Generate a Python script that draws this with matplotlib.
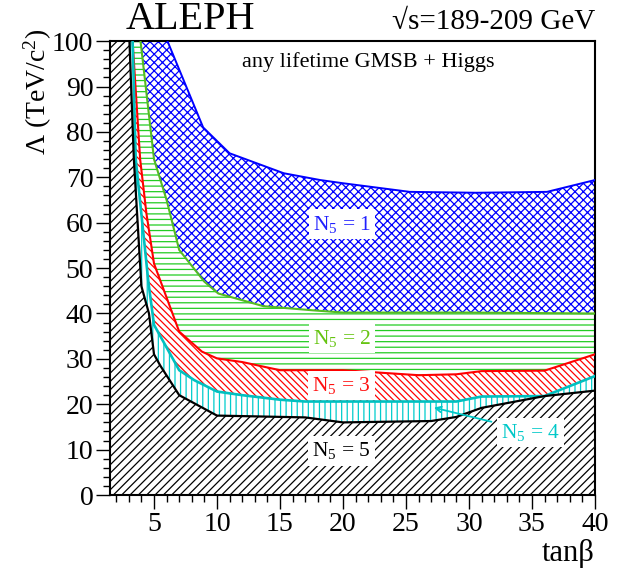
import matplotlib
matplotlib.use("Agg")
import matplotlib.pyplot as plt
import numpy as np

plt.rcParams['font.family'] = ['Liberation Serif', 'DejaVu Serif']
plt.rcParams['mathtext.fontset'] = 'custom'
plt.rcParams['mathtext.rm'] = 'Liberation Serif'
plt.rcParams['mathtext.it'] = 'Liberation Serif:italic'
plt.rcParams['hatch.linewidth'] = 0.9

# exclusion boundaries, tanb vs Lambda (TeV/c^2)
tanb_n5 = [3.0, 3.05, 3.4, 4.0, 4.6, 5.0, 5.5, 7.0, 10.0, 17.0, 20.0, 27.0, 29.0, 31.0, 36.0, 40.0]
lam_n5 = [110, 100, 74, 46, 40, 31, 28.5, 22, 17.5, 17.1, 16.0, 16.3, 17.2, 19.2, 21.8, 23.0]

tanb_n4 = [3.25, 3.3, 3.55, 4.55, 5.0, 6.0, 7.0, 8.2, 10.0, 12.0, 15.0, 17.0, 29.0, 31.0, 36.0, 40.0]
lam_n4 = [110, 100, 74, 47, 37.5, 32.5, 27.5, 25.3, 22.8, 22.0, 21.0, 20.6, 20.6, 21.7, 21.8, 26.2]

tanb_n3 = [3.25, 3.3, 3.9, 4.4, 5.0, 7.0, 8.8, 10.0, 12.0, 15.0, 20.0, 26.0, 29.0, 31.0, 36.0, 40.0]
lam_n3 = [110, 100, 74, 62, 51, 36, 31.6, 30.1, 29.3, 27.5, 27.5, 26.4, 26.6, 27.3, 27.4, 31.0]

tanb_n2 = [3.85, 3.93, 5.0, 6.0, 7.0, 9.0, 10.1, 13.7, 17.6, 20.0, 30.0, 40.0]
lam_n2 = [110, 100, 74, 65, 54, 47, 44.4, 41.6, 40.7, 40.2, 40.2, 40.0]

tanb_n1 = [6.0, 6.07, 8.9, 11.0, 15.3, 18.2, 20.0, 25.3, 30.6, 36.2, 40.0]
lam_n1 = [110, 100, 81, 75.3, 70.9, 69.4, 68.7, 66.8, 66.6, 66.8, 69.4]

labels = ["N$_5$ = 1", "N$_5$ = 2", "N$_5$ = 3", "N$_5$ = 4", "N$_5$ = 5"]
label_x = [19.9, 19.9, 19.9, 34.9, 19.9]
label_y = [59.7, 34.4, 24.2, 13.7, 9.7]

colors = ['#0000ff', '#22cc22', '#ff0000', '#00cccc', '#000000']
line_colors = ['#0000ff', '#55bb22', '#ff0000', '#00c0c0', '#000000']
text_colors = ['#2020ff', '#66c411', '#ff1010', '#00c8c8', '#000000']
hatches = ['xxxx', '---', '\\\\\\\\\\', '|||', '////']


def band(x_lo, y_lo, x_hi, y_hi):
    xs = list(x_lo) + list(x_hi)[::-1]
    ys = list(y_lo) + list(y_hi)[::-1]
    return xs, ys


fig = plt.figure(figsize=(6.21, 5.72), dpi=100)
ax = fig.add_axes([0.177, 0.1346, 0.781, 0.7934])

curves = [(tanb_n1, lam_n1), (tanb_n2, lam_n2), (tanb_n3, lam_n3),
          (tanb_n4, lam_n4), (tanb_n5, lam_n5)]

# N5 = 5 region below the black curve
xs = list(tanb_n5) + [40.0, 1.0, 1.0]
ys = list(lam_n5) + [0.0, 0.0, 110.0]
ax.fill(xs, ys, facecolor='white', edgecolor=colors[4], hatch=hatches[4], linewidth=0)

# bands between consecutive curves
for i in range(4):
    lo = curves[i + 1]
    hi = curves[i]
    xs, ys = band(lo[0], lo[1], hi[0], hi[1])
    ax.fill(xs, ys, facecolor='white', edgecolor=colors[i], hatch=hatches[i], linewidth=0)

widths = [1.4, 1.5, 1.5, 1.9, 1.6]
for i in range(5):
    ax.plot(curves[i][0], curves[i][1], color=line_colors[i], lw=widths[i], zorder=3)

for i in range(5):
    ax.text(label_x[i], label_y[i], labels[i], color=text_colors[i], fontsize=15.5,
            ha='center', va='center', zorder=5,
            bbox=dict(facecolor='white', edgecolor='none', pad=3))

ax.annotate("", xy=(27.0, 19.4), xytext=(32.0, 16.0),
            arrowprops=dict(arrowstyle='->', color='#00c8c8', lw=1.3), zorder=4)

ax.text(22.0, 95.4, "any lifetime GMSB + Higgs", fontsize=16, ha='center', va='center')

ax.set_xlim(1.5, 40)
ax.set_ylim(0, 100)
ax.set_xticks([5, 10, 15, 20, 25, 30, 35, 40])
ax.set_xticks(np.arange(2, 41, 1), minor=True)
ax.set_yticks(np.arange(0, 101, 10))
ax.set_yticks(np.arange(0, 101, 2), minor=True)
ax.tick_params(which='major', length=10, width=1.0, labelsize=20, pad=2)
ax.tick_params(which='minor', length=5, width=1.0)
for s in ax.spines.values():
    s.set_linewidth(1.5)

fig.text(0.061, 0.839, "Λ (TeV/c$^{2}$)", rotation=90, fontsize=20, ha='center', va='center')
fig.text(0.958, 0.033, "tanβ", fontsize=22, ha='right', va='center')
fig.text(0.306, 0.966, "ALEPH", fontsize=29, ha='center', va='center')
fig.text(0.958, 0.962, "√s=189-209 GeV", fontsize=21, ha='right', va='center')

fig.savefig("out.png", dpi=100)
